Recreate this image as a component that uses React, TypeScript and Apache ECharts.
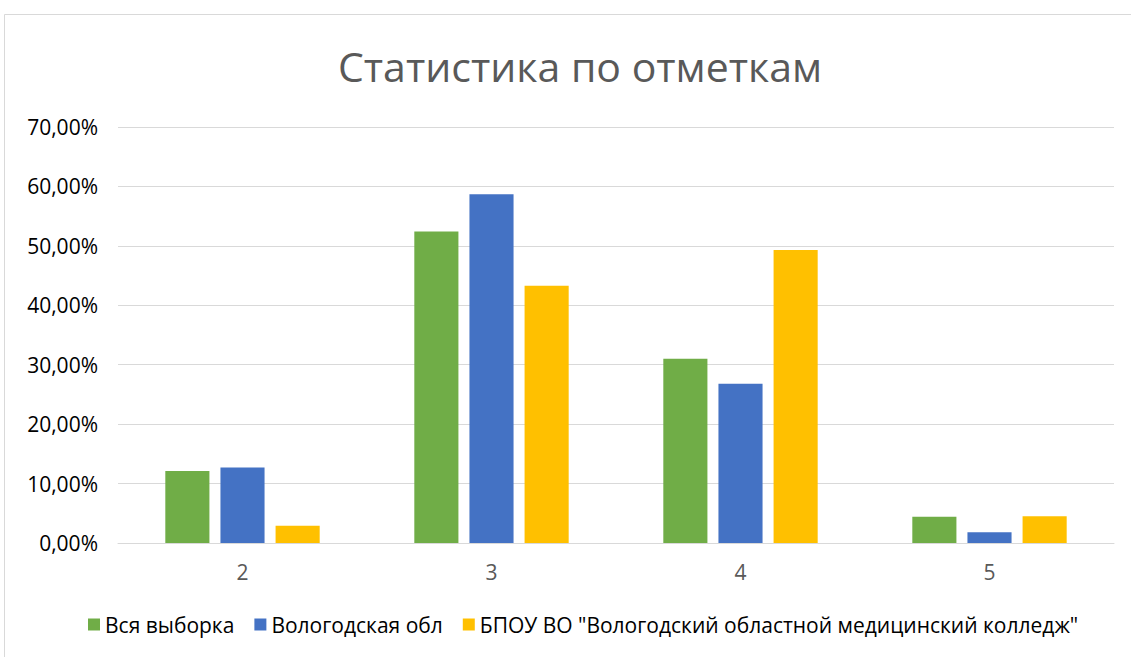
import React, { useEffect, useRef } from "react";
import * as echarts from "echarts";

const categories = ["2", "3", "4", "5"];
const seriesNames = [
  "Вся выборка",
  "Вологодская обл",
  'БПОУ ВО "Вологодский областной медицинский колледж"',
];
const allSample = [12.1, 52.4, 31.0, 4.4];
const region = [12.7, 58.7, 26.8, 1.8];
const college = [2.9, 43.3, 49.3, 4.5];
const colors = ["#70ad47", "#4472c4", "#ffc000"];
const titleText = "Статистика по отметкам";

export default function App() {
  const ref = useRef<HTMLDivElement>(null);
  useEffect(() => {
    if (!ref.current) return;
    const chart = echarts.init(ref.current, null, { renderer: "svg" });
    const values = [allSample, region, college];
    chart.setOption({
      animation: false,
      backgroundColor: "#ffffff",
      title: {
        text: titleText,
        left: 333,
        top: 40,
        textStyle: {
          fontFamily: "Open Sans",
          fontSize: 41,
          fontWeight: "normal",
          color: "#595959",
        },
      },
      graphic: [
        {
          type: "rect",
          shape: { x: 4.5, y: 14.5, width: 1140, height: 660 },
          style: { fill: "none", stroke: "#d9d9d9", lineWidth: 1 },
          silent: true,
        },
      ],
      legend: {
        bottom: 17,
        left: 83,
        itemWidth: 12,
        itemHeight: 12,
        itemGap: 20,
        icon: "rect",
        textStyle: { fontFamily: "Open Sans", fontSize: 21, color: "#000000" },
        data: seriesNames,
      },
      grid: { left: 118, right: 17, top: 127, bottom: 114, containLabel: false },
      xAxis: {
        type: "category",
        data: categories,
        axisLine: { lineStyle: { color: "#d9d9d9", width: 1 } },
        axisTick: { show: false },
        axisLabel: {
          fontFamily: "Open Sans",
          fontSize: 21,
          color: "#595959",
          margin: 18,
        },
      },
      yAxis: {
        type: "value",
        min: 0,
        max: 70,
        interval: 10,
        axisLine: { show: false },
        axisTick: { show: false },
        splitLine: { lineStyle: { color: "#d9d9d9", width: 1 } },
        axisLabel: {
          fontFamily: "Open Sans",
          fontSize: 21,
          color: "#000000",
          margin: 20,
          formatter: (v: number) => v.toFixed(2).replace(".", ",") + "%",
        },
      },
      series: seriesNames.map((name, i) => ({
        name,
        type: "bar",
        data: values[i],
        barGap: "25%",
        barCategoryGap: "38%",
        itemStyle: { color: colors[i] },
      })),
    });
    return () => chart.dispose();
  }, []);
  return (
    <div
      ref={ref}
      style={{ position: "fixed", left: 0, top: 0, width: 1131, height: 657 }}
    />
  );
}
